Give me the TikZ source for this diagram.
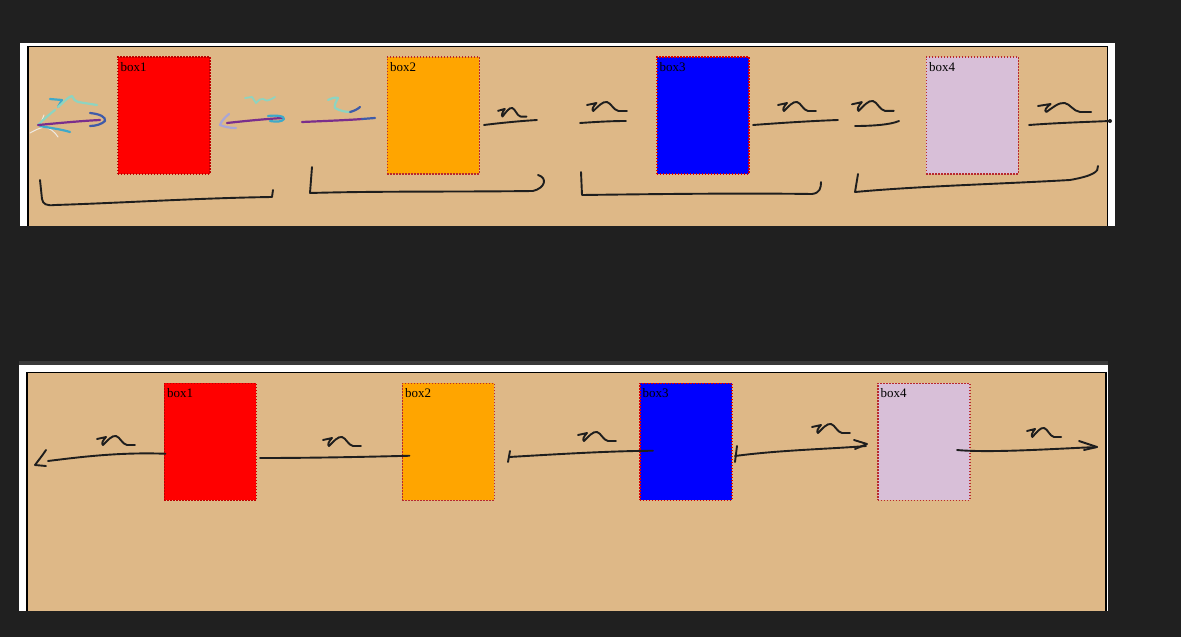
\documentclass[tikz,border=0pt]{standalone}
\usepackage{fontspec}
\setmainfont{Liberation Serif}
\usetikzlibrary{calc}
\definecolor{bgdark}{HTML}{202020}
\definecolor{stripgray}{HTML}{3A3A3A}
\definecolor{tanbg}{HTML}{DEB887}
\definecolor{boxred}{HTML}{FF0000}
\definecolor{boxorange}{HTML}{FFA500}
\definecolor{boxblue}{HTML}{0000FF}
\definecolor{boxthistle}{HTML}{D8BFD8}
\definecolor{dotred}{HTML}{B8282E}
\definecolor{mpurple}{HTML}{7A2E8C}
\definecolor{mblue}{HTML}{3F5BA9}
\definecolor{mcyan}{HTML}{3FA9C9}
\definecolor{mteal}{HTML}{8ED4C0}
\definecolor{mlav}{HTML}{A9A6D6}
\definecolor{mwhite}{HTML}{EEEAE2}
\definecolor{inkc}{HTML}{1E1E1E}
\begin{document}
\begin{tikzpicture}[x=1pt,y=-1pt,
  ink/.style={draw=inkc, line width=1.9pt, line cap=round, line join=round},
  mk/.style={line width=2.2pt, line cap=round, line join=round},
  boxnode/.style={rectangle, minimum width=92pt, minimum height=117pt, anchor=north west, inner sep=0pt, line width=1.5pt, dash pattern=on 1.5pt off 1.5pt, draw=dotred},
  lbl/.style={anchor=north west, font=\fontsize{13}{15}\selectfont, inner xsep=3.5pt, inner ysep=6pt, text=black},
  squig/.pic={\draw[ink] (0,3) -- (9,1) .. controls (6,4) and (4,8) .. (6,9) .. controls (10,5) and (15,-1) .. (19,0) .. controls (23,1) and (25,8) .. (30,9) -- (38,9);}
]
\useasboundingbox (0,0) rectangle (1181,637);
\fill[bgdark] (0,0) rectangle (1181,637);

% ---------- top panel ----------
\fill[white] (20,43) rectangle (1115,226);
\fill[tanbg] (28,46.5) rectangle (1107.5,226);
\draw[line width=1.5pt] (28,226) -- (28,46.5) -- (1107.5,46.5) -- (1107.5,226);

\node[boxnode, fill=boxred, draw=boxred!75!black] (t1) at (117,56) {};
\node[boxnode, fill=boxorange, draw=dotred] (t2) at (386.5,56) {};
\node[boxnode, fill=boxblue, draw=red!85!black] (t3) at (656,56) {};
\node[boxnode, fill=boxthistle, draw=dotred] (t4) at (925.5,56) {};
\node[lbl] (t1l) at (t1.north west) {box1};
\node[lbl] (t2l) at (t2.north west) {box2};
\node[lbl] (t3l) at (t3.north west) {box3};
\node[lbl] (t4l) at (t4.north west) {box4};

% multicoloured strokes, left of box1
\draw[mk, mwhite, line width=1pt] (30,133) .. controls (35,130) and (40,128) .. (44,127) .. controls (50,128) and (55,132) .. (58,137);
\draw[mk, mwhite, line width=1pt] (44,115) -- (40,125);
\draw[mk, mteal] (38,125) .. controls (45,118) and (50,114) .. (55,110);
\draw[mk, mcyan] (40,126) .. controls (50,128) and (60,129) .. (70,132);
\draw[mk, mcyan] (50,99) -- (62,100) -- (58,107);
\draw[mk, mteal] (58,107) .. controls (64,102) and (68,97) .. (72,96) .. controls (74,99) and (75,102) .. (78,102) -- (97,105);
\draw[mk, mpurple] (38,125) .. controls (60,123) and (80,121) .. (100,120);
\draw[mk, mblue] (90,113) .. controls (100,114) and (106,117) .. (105,121) .. controls (102,124) and (96,126) .. (90,126);

% between box1 and box2
\draw[mk, mlav] (229,114) .. controls (224,118) and (221,122) .. (220,125) .. controls (225,127) and (230,128) .. (236,128);
\draw[mk, mpurple] (227,123) .. controls (245,121) and (265,119) .. (283,118);
\draw[mk, mcyan] (268,116) .. controls (276,115) and (285,116) .. (284,119) .. controls (282,122) and (276,122) .. (270,121);
\draw[mk, mteal, line width=1.8pt] (245,98) -- (252,97) -- (256,103) .. controls (259,100) and (261,98) .. (263,99) .. controls (265,101) and (267,102) .. (275,97);
\draw[mk, mpurple] (302,122) .. controls (325,121) and (350,120) .. (362,119);
\draw[mk, mblue] (362,119) -- (375,118);
\draw[mk, mteal] (328,100) .. controls (332,98) and (336,97) .. (338,98) .. controls (336,102) and (334,105) .. (335,108) .. controls (340,111) and (346,112) .. (350,112);
\draw[mk, mblue] (350,112) .. controls (354,111) and (358,109) .. (360,107);

% black strokes, top panel
\draw[ink] (484,125) .. controls (500,123) and (520,121) .. (537,120);
\pic[xscale=0.75, yscale=0.95] at (498,108) {squig};
\draw[ink] (580,123) .. controls (595,122) and (610,121) .. (626,121);
\pic[xscale=1.05] at (587,102) {squig};
\draw[ink] (753,125) .. controls (780,123) and (810,121) .. (838,120);
\pic[xscale=1.0] at (778,102) {squig};
\draw[ink] (855,126) .. controls (870,126) and (890,125) .. (899,121);
\pic[xscale=1.1, yscale=1.1] at (852,101) {squig};
\draw[ink] (1029,125) .. controls (1055,123) and (1085,122) .. (1110,121);
\fill[inkc] (1110,121) circle (2pt);
\pic[xscale=1.4, yscale=1.0] at (1038,103) {squig};

% brackets under top boxes
\draw[ink] (40,180) -- (42,199) .. controls (43,204) and (46,206) .. (55,205) .. controls (120,203) and (200,198) .. (272,197) -- (273,190);
\draw[ink] (312,167) -- (310,193) .. controls (380,191) and (450,192) .. (533,191) .. controls (545,188) and (548,178) .. (538,175);
\draw[ink] (581,172) -- (582,195) .. controls (660,194) and (740,193) .. (812,194) .. controls (820,193) and (821,188) .. (821,182);
\draw[ink] (858,174) -- (855,192) .. controls (920,186) and (1000,184) .. (1070,180) .. controls (1092,176) and (1099,172) .. (1098,166);

% ---------- bottom panel ----------
\fill[stripgray] (19,361) rectangle (1108,365);
\fill[white] (19,365) rectangle (1108,610.5);
\fill[tanbg] (27,372.5) rectangle (1106,610.5);
\draw[line width=1.5pt] (27,610.5) -- (27,372.5) -- (1106,372.5) -- (1106,610.5);

\node[boxnode, fill=boxred, draw=boxred!75!black] (b1) at (163.5,382.5) {};
\node[boxnode, fill=boxorange, draw=dotred] (b2) at (401.5,382.5) {};
\node[boxnode, fill=boxblue, draw=red!85!black] (b3) at (639,382.5) {};
\node[boxnode, fill=boxthistle, draw=dotred] (b4) at (877,382.5) {};
\node[lbl] (b1l) at (b1.north west) {box1};
\node[lbl] (b2l) at (b2.north west) {box2};
\node[lbl] (b3l) at (b3.north west) {box3};
\node[lbl] (b4l) at (b4.north west) {box4};

\coordinate (a0) at (48,461);
\coordinate (c2) at (260,458);
\coordinate (c3) at (509,457);
\coordinate (c4) at (735,456);
\coordinate (c5) at (957,450);
\coordinate (e5) at (1097,447);

% arrow 1 (box1 -> left)
\draw[ink] ($(b1.west)+(2,12)$) .. controls (120,452) and (80,457) .. (a0);
\draw[ink] (46,450) .. controls (42,456) and (38,461) .. (35,465) -- (46,466);
\pic at (97,436) {squig};
% line 2 (-> box2)
\draw[ink] (c2) .. controls (310,458) and (360,457) .. ($(b2.west)+(8,14)$);
\pic at (323,437) {squig};
% line 3 (-> box3)
\draw[ink] (510,451) -- (508,462);
\draw[ink] (c3) .. controls (560,454) and (610,451) .. ($(b3.west)+(14,9)$);
\pic at (578,432) {squig};
% line 4 (box3 -> box4)
\draw[ink] (737,446) -- (735,462);
\draw[ink] (c4) .. controls (780,450) and (830,449) .. (866,446);
\draw[ink] (854,440) -- (867,444) -- (855,449);
\pic at (812,424) {squig};
% line 5 (box4 -> right)
\draw[ink] (c5) .. controls (990,453) and (1050,449) .. (e5);
\draw[ink] (1079,441) -- (e5) -- (1084,450);
\pic[xscale=0.9] at (1027,428) {squig};
\end{tikzpicture}
\end{document}
